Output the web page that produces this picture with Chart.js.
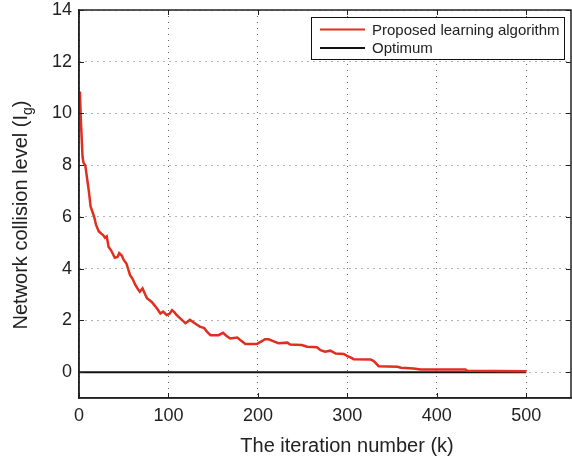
<!DOCTYPE html>
<html>
<head>
<meta charset="utf-8">
<script src="https://cdn.jsdelivr.net/npm/chart.js@4.4.1/dist/chart.umd.min.js"></script>
<style>
  html, body { margin: 0; padding: 0; background: #fff; }
  #wrap { width: 572px; height: 461px; }
</style>
</head>
<body>
<div id="wrap"><canvas id="collisionChart" width="572" height="461"></canvas></div>
<script>
// Iterations and measured collision level of the learning algorithm
const iterations = [
  1, 2, 4, 5, 7, 9, 11, 13, 15, 17, 19, 22, 25, 27, 29, 31, 33, 36, 40, 43,
  45, 48, 50, 53, 57, 60, 63, 66, 68, 71, 74, 76, 81, 84, 87, 91, 94, 98, 101, 104,
  107, 109, 114, 119, 124, 129, 135, 140, 143, 147, 156, 161, 165, 169, 173, 177, 181, 186, 199, 205,
  208, 212, 217, 223, 233, 236, 249, 255, 266, 270, 275, 281, 287, 296, 300, 303, 307, 326, 329, 331,
  335, 356, 360, 374, 382, 432, 434, 500
];
const collisionLevel = [
  10.85, 9.8, 8.3, 8.1, 8.0, 7.5, 7.0, 6.4, 6.2, 6.0, 5.7, 5.45, 5.35, 5.3, 5.2, 5.25, 4.85, 4.7, 4.42, 4.45,
  4.6, 4.5, 4.34, 4.2, 3.76, 3.6, 3.37, 3.2, 3.11, 3.24, 3.0, 2.86, 2.72, 2.6, 2.47, 2.27, 2.34, 2.21, 2.25, 2.4,
  2.3, 2.21, 2.05, 1.89, 2.02, 1.9, 1.76, 1.7, 1.56, 1.43, 1.43, 1.52, 1.4, 1.3, 1.32, 1.34, 1.22, 1.09, 1.09, 1.21,
  1.27, 1.27, 1.2, 1.12, 1.14, 1.07, 1.05, 0.98, 0.96, 0.85, 0.79, 0.83, 0.72, 0.7, 0.62, 0.58, 0.5, 0.49, 0.44, 0.38,
  0.23, 0.21, 0.17, 0.14, 0.1, 0.1, 0.05, 0.03
];

// Optimum level (zero collisions)
const optimumIter = [0, 500];
const optimumLevel = [0, 0];

// Axis ticks
const xTicks = [0, 100, 200, 300, 400, 500];
const yTicks = [0, 2, 4, 6, 8, 10, 12, 14];

const seriesNames = ["Proposed learning algorithm", "Optimum"];
const FONT = "'Liberation Sans', Arial, Helvetica, sans-serif";

const toPoints = (xs, ys) => xs.map((v, i) => ({ x: v, y: ys[i] }));

// Box frame, inward ticks, legend and axis titles drawn in MATLAB style
const frameAndLabels = {
  id: "frameAndLabels",
  afterDraw(chart) {
    const { ctx, chartArea: a, scales: { x, y } } = chart;
    ctx.save();

    // inward tick marks on all four sides
    ctx.strokeStyle = "#222";
    ctx.lineWidth = 1;
    ctx.beginPath();
    xTicks.forEach(v => {
      const px = Math.round(x.getPixelForValue(v)) + 0.5;
      ctx.moveTo(px, a.bottom); ctx.lineTo(px, a.bottom - 5);
      ctx.moveTo(px, a.top); ctx.lineTo(px, a.top + 5);
    });
    yTicks.forEach(v => {
      const py = Math.round(y.getPixelForValue(v)) + 0.5;
      ctx.moveTo(a.left, py); ctx.lineTo(a.left + 5, py);
      ctx.moveTo(a.right, py); ctx.lineTo(a.right - 5, py);
    });
    ctx.stroke();

    // axes box
    ctx.lineWidth = 1.5;
    ctx.strokeRect(a.left, a.top, a.right - a.left, a.bottom - a.top);

    // legend
    const ds = chart.data.datasets;
    const lw = 253, lh = 42;
    const lx = a.right - 7 - lw, ly = a.top + 7;
    ctx.fillStyle = "#fff";
    ctx.fillRect(lx, ly, lw, lh);
    ctx.lineWidth = 1;
    ctx.strokeStyle = "#111";
    ctx.strokeRect(lx + 0.5, ly + 0.5, lw, lh);
    ctx.font = "15px " + FONT;
    ctx.textBaseline = "middle";
    ctx.textAlign = "left";
    [12.5, 31].forEach((dy, i) => {
      ctx.strokeStyle = ds[i].borderColor;
      ctx.lineWidth = 2;
      ctx.beginPath();
      ctx.moveTo(lx + 9, ly + dy);
      ctx.lineTo(lx + 54, ly + dy);
      ctx.stroke();
      ctx.fillStyle = "#222";
      ctx.fillText(ds[i].label, lx + 61, ly + dy + 1);
    });

    // x axis title
    ctx.fillStyle = "#222";
    ctx.font = "20px " + FONT;
    ctx.textAlign = "center";
    ctx.textBaseline = "alphabetic";
    ctx.fillText("The iteration number (k)", 347, 452);

    // y axis title with subscript g
    ctx.translate(27, 215);
    ctx.rotate(-Math.PI / 2);
    const main = "Network collision level (I";
    const sub = "g";
    const tail = ")";
    ctx.font = "20px " + FONT;
    const wMain = ctx.measureText(main).width;
    const wTail = ctx.measureText(tail).width;
    ctx.font = "14px " + FONT;
    const wSub = ctx.measureText(sub).width;
    let cx = -(wMain + wSub + wTail) / 2;
    ctx.textAlign = "left";
    ctx.font = "20px " + FONT;
    ctx.fillText(main, cx, 0);
    cx += wMain;
    ctx.font = "14px " + FONT;
    ctx.fillText(sub, cx, 5);
    cx += wSub;
    ctx.font = "20px " + FONT;
    ctx.fillText(tail, cx, 0);

    ctx.restore();
  }
};

const chart = new Chart(document.getElementById("collisionChart"), {
  type: "line",
  data: {
    datasets: [
      {
        label: seriesNames[0],
        data: toPoints(iterations, collisionLevel),
        borderColor: "rgb(224, 46, 32)",
        borderWidth: 2.5,
        pointRadius: 0,
        tension: 0,
        order: 0
      },
      {
        label: seriesNames[1],
        data: toPoints(optimumIter, optimumLevel),
        borderColor: "#111",
        borderWidth: 2,
        pointRadius: 0,
        order: 1
      }
    ]
  },
  options: {
    responsive: false,
    animation: false,
    layout: { padding: { top: 10, right: 1, left: 0, bottom: 0 } },
    plugins: {
      legend: { display: false },
      tooltip: { enabled: false }
    },
    scales: {
      x: {
        type: "linear",
        min: 0,
        max: 550,
        afterBuildTicks: s => { s.ticks = xTicks.map(v => ({ value: v })); },
        afterFit: s => { s.height = 63; s.paddingLeft = 0; s.paddingRight = 0; },
        ticks: {
          color: "#222",
          font: { size: 18, family: FONT },
          padding: 7,
          maxRotation: 0
        },
        grid: { color: "rgba(60,60,60,0.8)", lineWidth: 1, drawTicks: false },
        border: { color: "#222", width: 1.5, dash: [1, 5] }
      },
      y: {
        min: -1,
        max: 14,
        afterBuildTicks: s => { s.ticks = yTicks.map(v => ({ value: v })); },
        afterFit: s => { s.width = 79; s.paddingTop = 0; s.paddingBottom = 0; },
        ticks: {
          color: "#222",
          font: { size: 18, family: FONT },
          padding: 7
        },
        grid: { color: "rgba(60,60,60,0.8)", lineWidth: 1, drawTicks: false },
        border: { color: "#222", width: 1.5, dash: [1, 5] }
      }
    }
  },
  plugins: [frameAndLabels]
});
</script>
</body>
</html>
